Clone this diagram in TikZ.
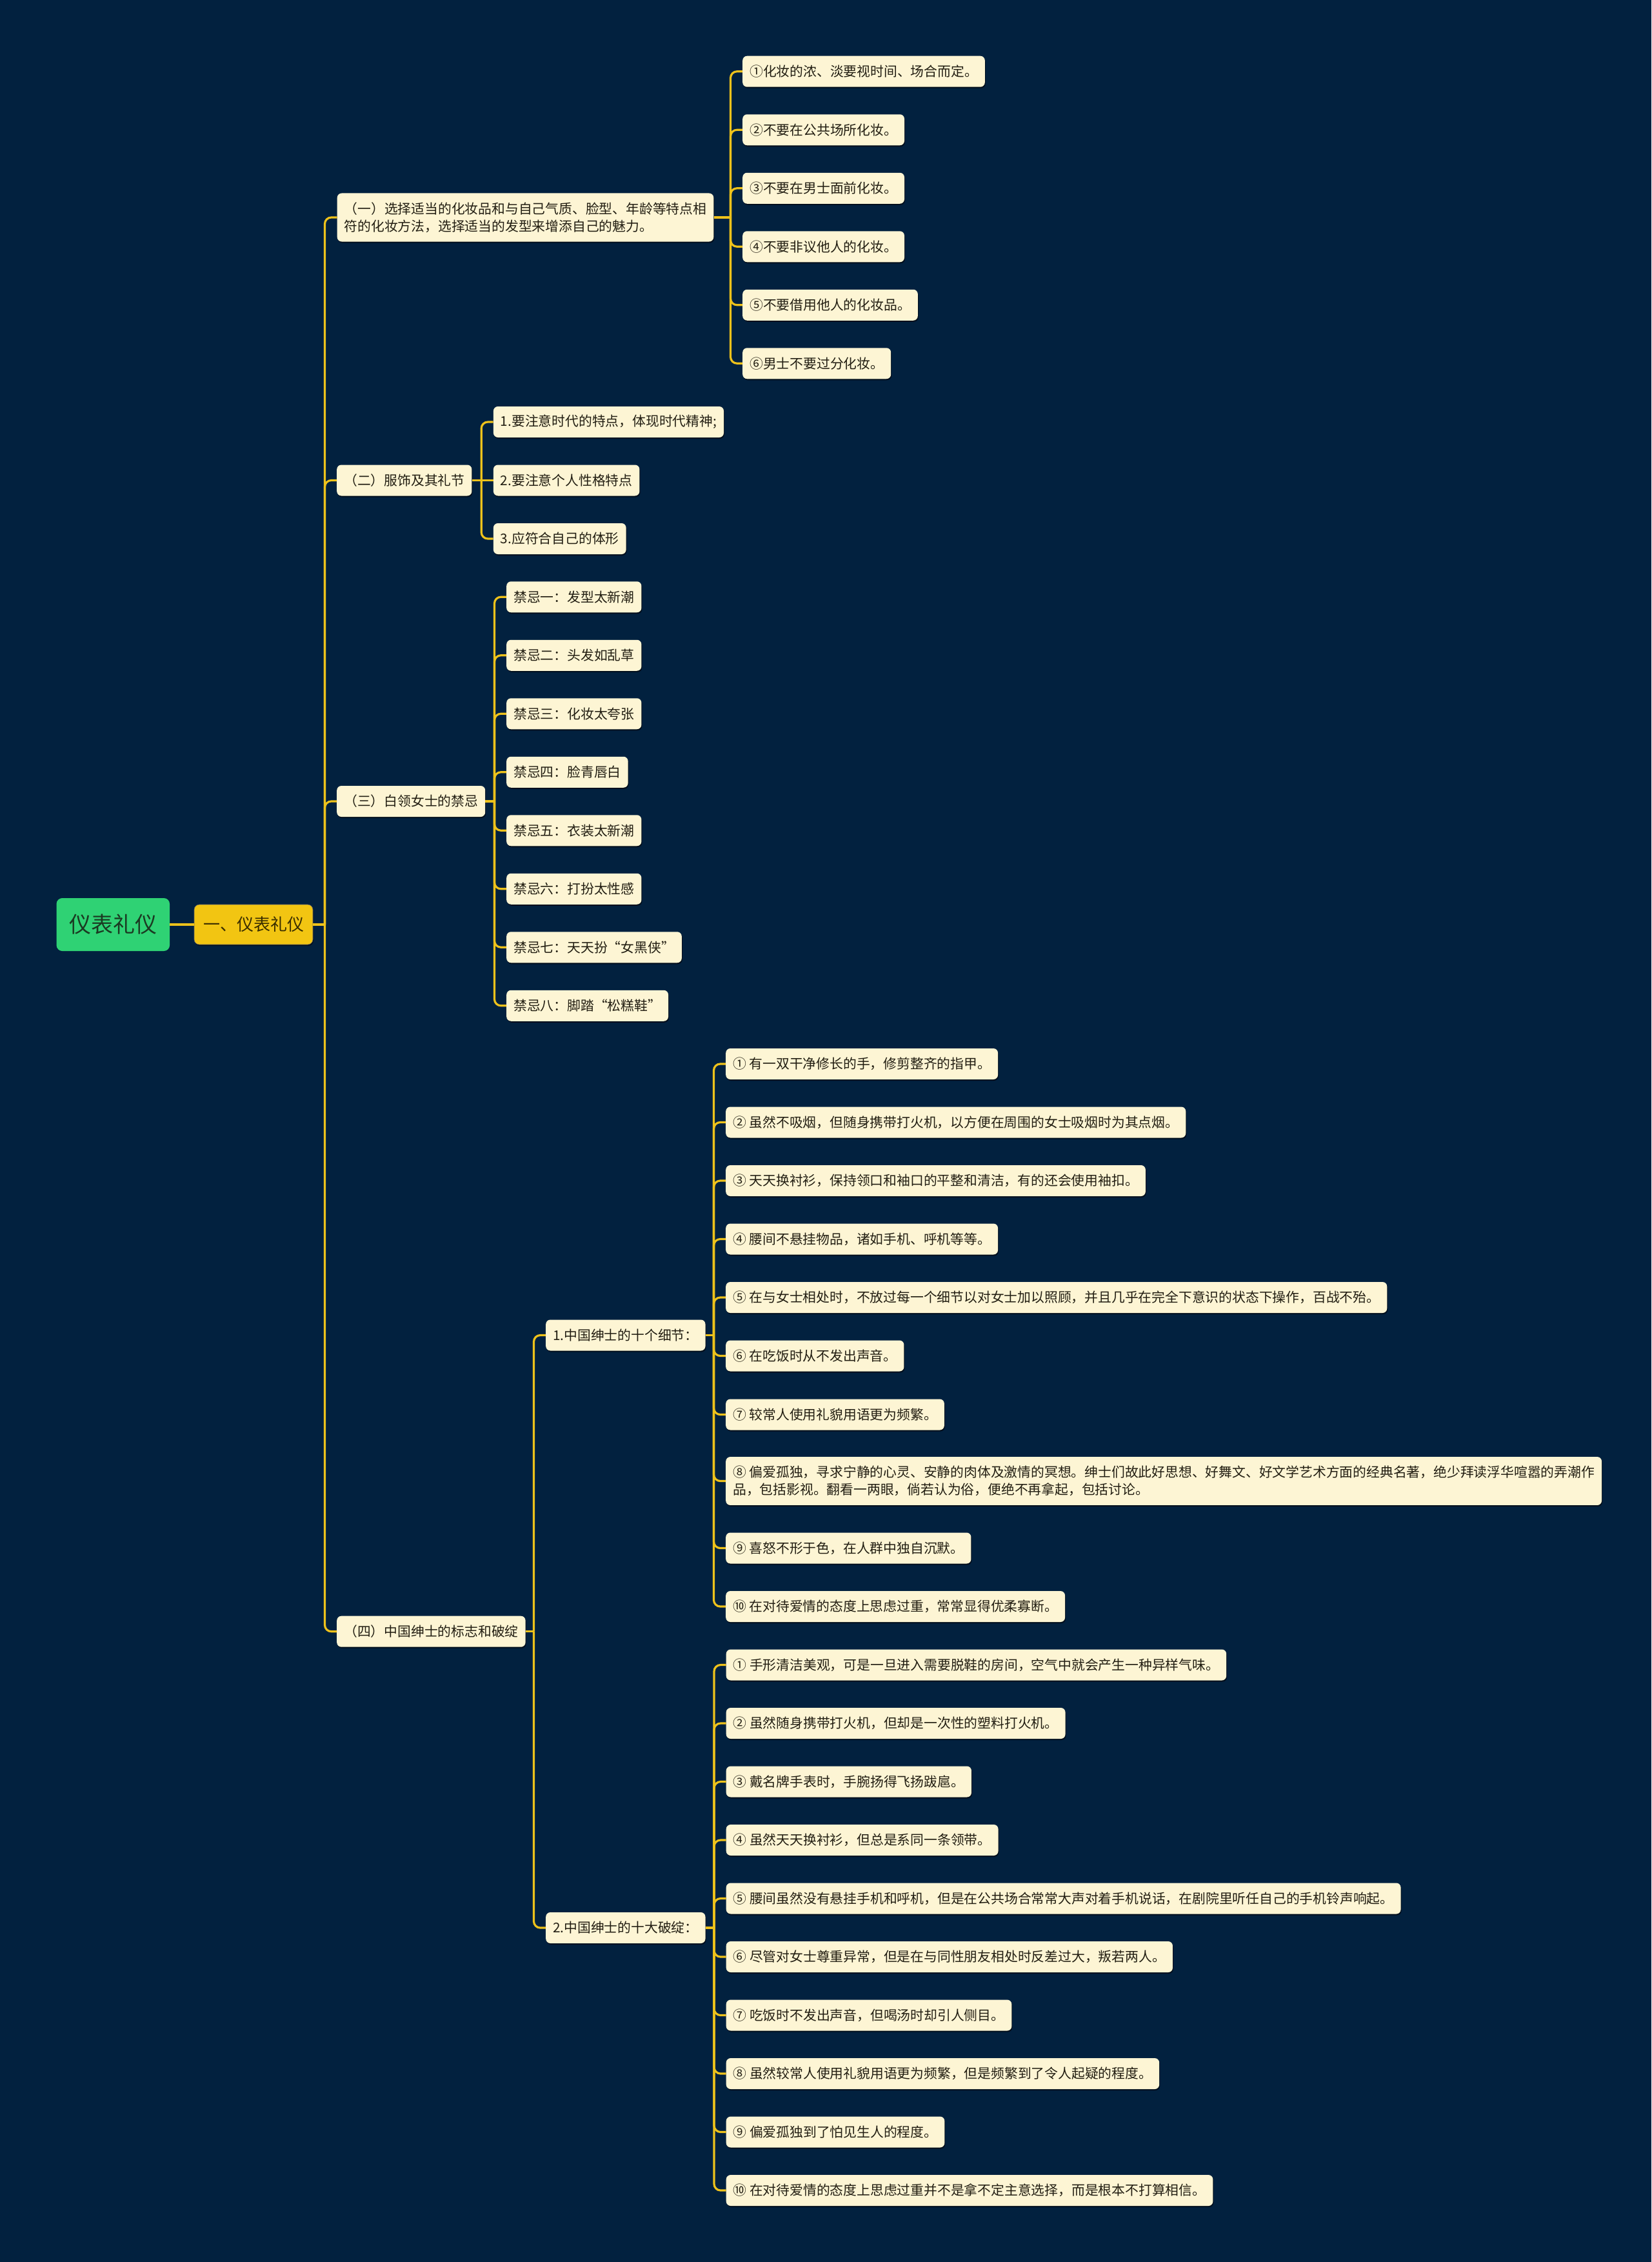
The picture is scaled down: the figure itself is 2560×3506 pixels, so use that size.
\documentclass[tikz,border=0pt]{standalone}
\usepackage{fontspec}
\setmainfont{Noto Sans CJK SC}
\usetikzlibrary{calc,shadows}
\definecolor{bgC}{HTML}{02213F}
\definecolor{lineC}{HTML}{EEC21B}
\definecolor{creamC}{HTML}{FDF5D4}
\definecolor{txtC}{HTML}{221E12}
\definecolor{rootC}{HTML}{2FD274}
\definecolor{rootT}{HTML}{1B3A22}
\definecolor{lvlC}{HTML}{F2C512}
\definecolor{lvlT}{HTML}{3A2E00}
\begin{document}
\begin{tikzpicture}[x=1pt,y=-1pt,
  conn/.style={draw=lineC, line width=3.2pt, rounded corners=10pt},
  shad/.style={drop shadow={shadow xshift=1pt, shadow yshift=-2pt, opacity=0.55, fill=black}},
  leaf/.style={shad, fill=creamC, text=txtC, rounded corners=7pt,
    font=\fontsize{20.8pt}{27pt}\selectfont, inner xsep=11pt, inner ysep=12pt,
    minimum height=48pt, anchor=west, align=left},
  twoline/.style={inner ysep=14pt},
  rootbox/.style={fill=rootC, text=rootT, rounded corners=9pt,
    font=\fontsize{34pt}{40pt}\selectfont, minimum width=175.5pt, minimum height=82pt},
  lvlbox/.style={shad, fill=lvlC, text=lvlT, rounded corners=8pt, draw=black!60, line width=0.6pt,
    font=\fontsize{26pt}{32pt}\selectfont, minimum width=184pt, minimum height=62pt}
]
\useasboundingbox (0,0) rectangle (2560,3506);
\fill[bgC] (0,0) rectangle (2560,3506);

% root and level 1
\node[rootbox] (root) at (175.3,1433) {仪表礼仪};
\node[lvlbox] (L1) at (393,1433) {一、仪表礼仪};

% level 2
\node[leaf,twoline] (A1) at (522.5,337) {（一）选择适当的化妆品和与自己气质、脸型、年龄等特点相\\符的化妆方法，选择适当的发型来增添自己的魅力。};
\node[leaf] (A2) at (522,744.5) {（二）服饰及其礼节};
\node[leaf] (A3) at (522,1242) {（三）白领女士的禁忌};
\node[leaf] (A4) at (522,2528.7) {（四）中国绅士的标志和破绽};

% children of (一)
\node[leaf] (a1) at (1151,110.75) {①化妆的浓、淡要视时间、场合而定。};
\node[leaf] (a2) at (1151,201.25) {②不要在公共场所化妆。};
\node[leaf] (a3) at (1151,291.75) {③不要在男士面前化妆。};
\node[leaf] (a4) at (1151,382.25) {④不要非议他人的化妆。};
\node[leaf] (a5) at (1151,472.75) {⑤不要借用他人的化妆品。};
\node[leaf] (a6) at (1151,563.25) {⑥男士不要过分化妆。};

% children of (二)
\node[leaf] (b1) at (764.7,654) {1.要注意时代的特点，体现时代精神;};
\node[leaf] (b2) at (764.7,744.5) {2.要注意个人性格特点};
\node[leaf] (b3) at (764.7,835) {3.应符合自己的体形};

% children of (三)
\node[leaf] (c1) at (785,925.25) {禁忌一：发型太新潮};
\node[leaf] (c2) at (785,1015.75) {禁忌二：头发如乱草};
\node[leaf] (c3) at (785,1106.25) {禁忌三：化妆太夸张};
\node[leaf] (c4) at (785,1196.75) {禁忌四：脸青唇白};
\node[leaf] (c5) at (785,1287.25) {禁忌五：衣装太新潮};
\node[leaf] (c6) at (785,1377.75) {禁忌六：打扮太性感};
\node[leaf] (c7) at (785,1468.25) {禁忌七：天天扮“女黑侠”};
\node[leaf] (c8) at (785,1558.75) {禁忌八：脚踏“松糕鞋”};

% children of (四)
\node[leaf] (d1) at (846,2069.5) {1.中国绅士的十个细节：};
\node[leaf] (d2) at (846,2988) {2.中国绅士的十大破绽：};

% children of 1.
\node[leaf] (e1) at (1125,1649) {① 有一双干净修长的手，修剪整齐的指甲。};
\node[leaf] (e2) at (1125,1739.5) {② 虽然不吸烟，但随身携带打火机，以方便在周围的女士吸烟时为其点烟。};
\node[leaf] (e3) at (1125,1830) {③ 天天换衬衫，保持领口和袖口的平整和清洁，有的还会使用袖扣。};
\node[leaf] (e4) at (1125,1920.5) {④ 腰间不悬挂物品，诸如手机、呼机等等。};
\node[leaf] (e5) at (1125,2011) {⑤ 在与女士相处时，不放过每一个细节以对女士加以照顾，并且几乎在完全下意识的状态下操作，百战不殆。};
\node[leaf] (e6) at (1125,2101.5) {⑥ 在吃饭时从不发出声音。};
\node[leaf] (e7) at (1125,2192.5) {⑦ 较常人使用礼貌用语更为频繁。};
\node[leaf,twoline] (e8) at (1125,2295.5) {⑧ 偏爱孤独，寻求宁静的心灵、安静的肉体及激情的冥想。绅士们故此好思想、好舞文、好文学艺术方面的经典名著，绝少拜读浮华喧嚣的弄潮作\\品，包括影视。翻看一两眼，倘若认为俗，便绝不再拿起，包括讨论。};
\node[leaf] (e9) at (1125,2399.5) {⑨ 喜怒不形于色，在人群中独自沉默。};
\node[leaf] (e10) at (1125,2490) {⑩ 在对待爱情的态度上思虑过重，常常显得优柔寡断。};

% children of 2.
\node[leaf] (f1) at (1125.5,2580.5) {① 手形清洁美观，可是一旦进入需要脱鞋的房间，空气中就会产生一种异样气味。};
\node[leaf] (f2) at (1125.5,2671) {② 虽然随身携带打火机，但却是一次性的塑料打火机。};
\node[leaf] (f3) at (1125.5,2761.5) {③ 戴名牌手表时，手腕扬得飞扬跋扈。};
\node[leaf] (f4) at (1125.5,2852) {④ 虽然天天换衬衫，但总是系同一条领带。};
\node[leaf] (f5) at (1125.5,2942.5) {⑤ 腰间虽然没有悬挂手机和呼机，但是在公共场合常常大声对着手机说话，在剧院里听任自己的手机铃声响起。};
\node[leaf] (f6) at (1125.5,3033) {⑥ 尽管对女士尊重异常，但是在与同性朋友相处时反差过大，叛若两人。};
\node[leaf] (f7) at (1125.5,3123.5) {⑦ 吃饭时不发出声音，但喝汤时却引人侧目。};
\node[leaf] (f8) at (1125.5,3214) {⑧ 虽然较常人使用礼貌用语更为频繁，但是频繁到了令人起疑的程度。};
\node[leaf] (f9) at (1125.5,3304.5) {⑨ 偏爱孤独到了怕见生人的程度。};
\node[leaf] (f10) at (1125.5,3395) {⑩ 在对待爱情的态度上思虑过重并不是拿不定主意选择，而是根本不打算相信。};

% bus coordinates
\coordinate (busT) at ($(A2.west)+(-18.5,0)$);
\coordinate (busA) at ($(a1.west)+(-18.5,0)$);
\coordinate (busB) at ($(b1.west)+(-18.5,0)$);
\coordinate (busC) at ($(c1.west)+(-18.5,0)$);
\coordinate (busD) at ($(d1.west)+(-18.5,0)$);
\coordinate (busE) at ($(e1.west)+(-18.5,0)$);
\coordinate (busF) at ($(f1.west)+(-18.5,0)$);

\draw[conn, line width=3.6pt] (root.east) -- (L1.west);

\draw[conn] (L1.east) -- (L1.east -| busT);
\foreach \n in {A1,A2,A3,A4} \draw[conn] (L1.east -| busT) |- (\n.west);

\draw[conn] (A1.east) -- (A1.east -| busA);
\foreach \n in {a1,a2,a3,a4,a5,a6} \draw[conn] (A1.east -| busA) |- (\n.west);

\draw[conn] (A2.east) -- (b2.west);
\foreach \n in {b1,b3} \draw[conn] (A2.east -| busB) |- (\n.west);

\draw[conn] (A3.east) -- (A3.east -| busC);
\foreach \n in {c1,c2,c3,c4,c5,c6,c7,c8} \draw[conn] (A3.east -| busC) |- (\n.west);

\draw[conn] (A4.east) -- (A4.east -| busD);
\foreach \n in {d1,d2} \draw[conn] (A4.east -| busD) |- (\n.west);

\draw[conn] (d1.east) -- (d1.east -| busE);
\foreach \n in {e1,e2,e3,e4,e5,e6,e7,e8,e9,e10} \draw[conn] (d1.east -| busE) |- (\n.west);

\draw[conn] (d2.east) -- (d2.east -| busF);
\foreach \n in {f1,f2,f3,f4,f5,f6,f7,f8,f9,f10} \draw[conn] (d2.east -| busF) |- (\n.west);
\end{tikzpicture}
\end{document}
